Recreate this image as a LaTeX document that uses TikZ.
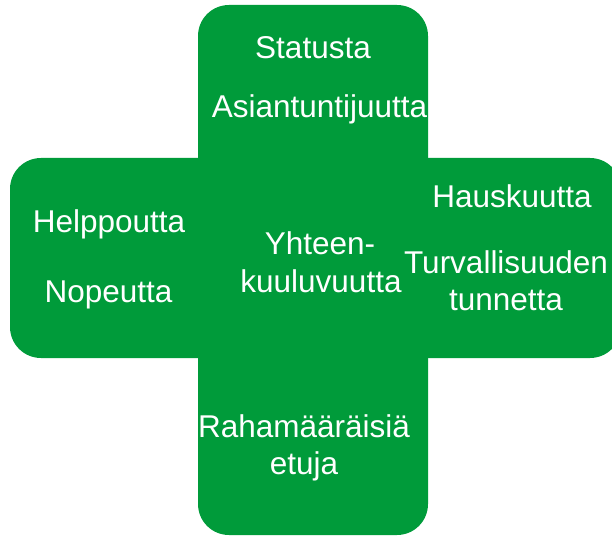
\documentclass[tikz,border=0pt]{standalone}
\usepackage{fontspec}
\setmainfont{Liberation Sans}
\definecolor{crossgreen}{RGB}{0,155,58}
\begin{document}
\begin{tikzpicture}[x=1pt,y=1pt,
  bar/.style={fill=crossgreen,draw=none,rounded corners=31pt},
  lbl/.style={text=white,anchor=base,inner sep=0pt,font=\fontsize{31.5}{37}\selectfont}]
\useasboundingbox (0,0) rectangle (612,536);
\begin{scope}
\clip (0,0) rectangle (612,536);
\fill[bar] (198,1) rectangle (428,531);
\fill[bar] (10,178) rectangle (621,378);
\end{scope}
\node[lbl] (statusta) at (313,477) {Statusta};
\node[lbl] (asiant) at (319.5,418) {Asiantuntijuutta};
\node[lbl] (helpp) at (109,304) {Helppoutta};
\node[lbl] (nopeus) at (108.5,234) {Nopeutta};
\node[lbl] (hausk) at (512,328) {Hauskuutta};
\node[lbl] (turva1) at (506,263) {Turvallisuuden};
\node[lbl] (turva2) at (506,226) {tunnetta};
\node[lbl] (yht1) at (320,282) {Yhteen-};
\node[lbl] (yht2) at (321,244) {kuuluvuutta};
\node[lbl] (raha1) at (304,99) {Rahamääräisiä};
\node[lbl] (raha2) at (304,62) {etuja};
\end{tikzpicture}
\end{document}
